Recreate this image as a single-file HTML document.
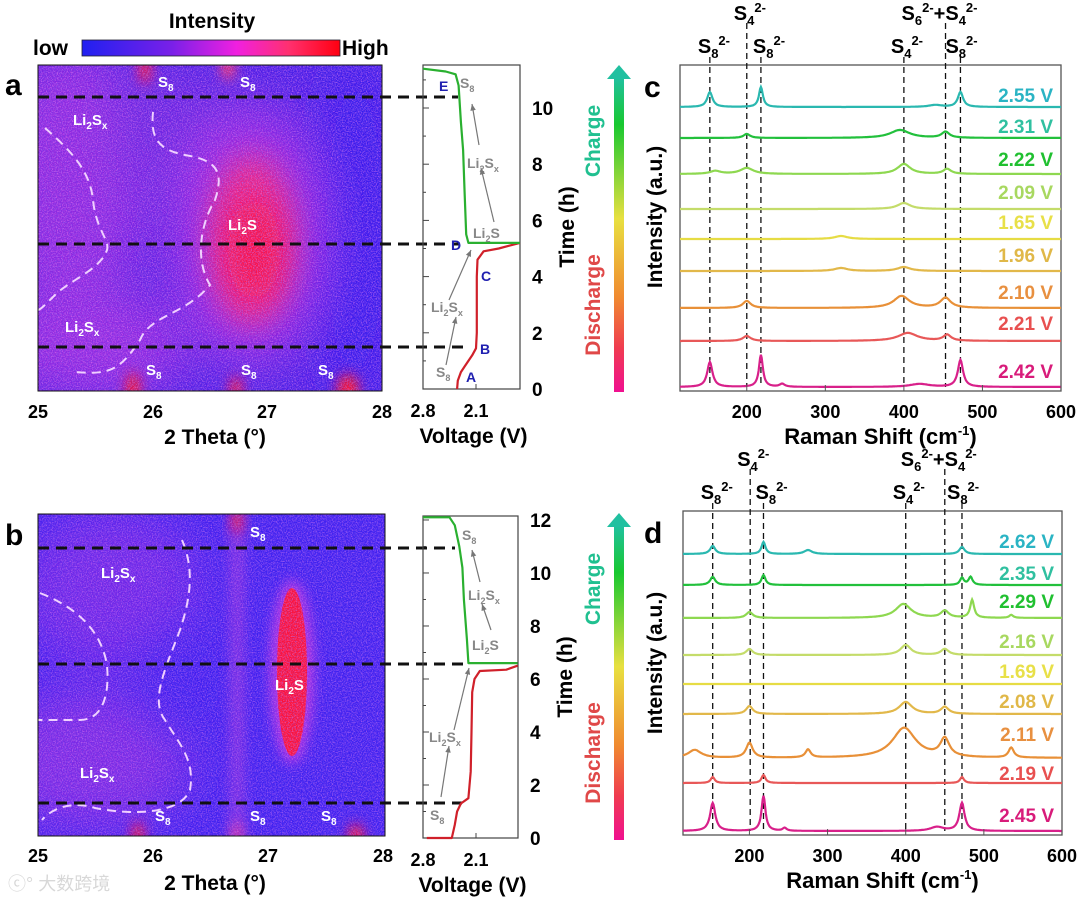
<!DOCTYPE html>
<html><head><meta charset="utf-8">
<style>
html,body{margin:0;padding:0;background:#fff;}
svg{display:block;font-family:"Liberation Sans","Noto Sans CJK SC",sans-serif;font-weight:bold;}
</style></head>
<body>
<svg id="fig" width="1080" height="898" viewBox="0 0 1080 898" xmlns="http://www.w3.org/2000/svg">
<defs>
  <linearGradient id="cbar" x1="0" x2="1" y1="0" y2="0">
    <stop offset="0" stop-color="#2020f0"/><stop offset="0.35" stop-color="#7a20e8"/>
    <stop offset="0.6" stop-color="#f020e0"/><stop offset="0.8" stop-color="#ff3070"/><stop offset="1" stop-color="#ff0010"/>
  </linearGradient>
  <linearGradient id="arrowg" x1="0" x2="0" y1="0" y2="1">
    <stop offset="0" stop-color="#20c0a0"/><stop offset="0.15" stop-color="#18c830"/>
    <stop offset="0.45" stop-color="#e8e040"/><stop offset="0.7" stop-color="#f08a30"/>
    <stop offset="0.86" stop-color="#f03c50"/><stop offset="1" stop-color="#f01090"/>
  </linearGradient>
  <filter id="noise" x="0" y="0" width="100%" height="100%">
    <feTurbulence type="fractalNoise" baseFrequency="0.8" numOctaves="2" seed="3"/>
    <feColorMatrix type="matrix" values="0 0 0 0 0.95  0 0 0 0 0.25  0 0 0 0 0.9  0 0 0 3 -1.3"/>
  </filter>
  <filter id="noise2" x="0" y="0" width="100%" height="100%">
    <feTurbulence type="fractalNoise" baseFrequency="0.85" numOctaves="2" seed="9"/>
    <feColorMatrix type="matrix" values="0 0 0 0 0.15  0 0 0 0 0.1  0 0 0 0 0.9  0 0 0 3 -1.4"/>
  </filter>
  <filter id="blur6" x="-100%" y="-100%" width="300%" height="300%"><feGaussianBlur stdDeviation="6"/></filter>
  <filter id="blur15" x="-100%" y="-100%" width="300%" height="300%"><feGaussianBlur stdDeviation="15"/></filter>
  <filter id="blur25" x="-100%" y="-100%" width="300%" height="300%"><feGaussianBlur stdDeviation="25"/></filter>
  <clipPath id="clipA"><rect x="38" y="65" width="344" height="326"/></clipPath>
  <clipPath id="clipB"><rect x="38" y="514" width="347" height="322"/></clipPath>
</defs>

<!-- Colorbar -->
<text x="212" y="28" font-size="21" text-anchor="middle">Intensity</text>
<text x="33" y="55" font-size="21">low</text>
<rect x="82" y="40" width="258" height="16" fill="url(#cbar)" stroke="#223" stroke-width="0.8"/>
<text x="342" y="55" font-size="21">High</text>

<!-- Panel a heatmap -->
<g clip-path="url(#clipA)">
  <rect x="38" y="65" width="344" height="326" fill="#4a1ee6"/>
  <ellipse cx="70" cy="180" rx="80" ry="140" fill="#9a2ae0" filter="url(#blur25)" opacity="0.85"/>
  <ellipse cx="90" cy="345" rx="100" ry="55" fill="#a02ce0" filter="url(#blur25)" opacity="0.85"/>
  <ellipse cx="170" cy="130" rx="60" ry="70" fill="#7226e0" filter="url(#blur25)" opacity="0.7"/>
  <ellipse cx="355" cy="230" rx="45" ry="180" fill="#3018f0" filter="url(#blur25)" opacity="0.8"/>
  <ellipse cx="250" cy="235" rx="80" ry="130" fill="#b02ae0" filter="url(#blur25)" opacity="0.8"/>
  <ellipse cx="252" cy="240" rx="42" ry="85" fill="#ff2070" filter="url(#blur15)" opacity="0.85"/>
  <ellipse cx="254" cy="250" rx="26" ry="50" fill="#ff1040" filter="url(#blur15)"/>
  <ellipse cx="145" cy="68" rx="6" ry="16" fill="#ff1030" filter="url(#blur6)"/>
  <ellipse cx="228" cy="68" rx="7" ry="12" fill="#ff3060" filter="url(#blur6)"/>
  <ellipse cx="133" cy="390" rx="7" ry="18" fill="#ff1020" filter="url(#blur6)"/>
  <ellipse cx="236" cy="390" rx="6" ry="14" fill="#ff1030" filter="url(#blur6)"/>
  <ellipse cx="348" cy="390" rx="11" ry="16" fill="#ff1020" filter="url(#blur6)"/>
  <rect x="38" y="65" width="344" height="326" filter="url(#noise)" opacity="0.55"/>
  <rect x="38" y="65" width="344" height="326" filter="url(#noise2)" opacity="0.5"/>
  <path d="M45,128 C70,150 90,170 93,200 C96,230 110,240 107,250 C100,270 70,280 55,295 C45,305 40,310 38,310" fill="none" stroke="#f0d0ff" stroke-width="2" stroke-dasharray="9,6"/>
  <path d="M153,112 C150,140 160,150 185,155 C215,160 225,170 215,200 C200,225 195,260 210,285 C185,315 150,315 140,340 C120,370 110,375 75,372" fill="none" stroke="#f0d0ff" stroke-width="2" stroke-dasharray="9,6"/>
</g>
<rect x="38" y="65" width="344" height="326" fill="none" stroke="#111" stroke-width="1"/>
<text x="5" y="95" font-size="30">a</text>
<g fill="#fff" font-size="15">
  <text x="158" y="87">S<tspan font-size="10" dy="4">8</tspan></text>
  <text x="240" y="87">S<tspan font-size="10" dy="4">8</tspan></text>
  <text x="73" y="125">Li<tspan font-size="10" dy="4">2</tspan><tspan dy="-4">S</tspan><tspan font-size="10" dy="4">x</tspan></text>
  <text x="228" y="230">Li<tspan font-size="10" dy="4">2</tspan><tspan dy="-4">S</tspan></text>
  <text x="65" y="332">Li<tspan font-size="10" dy="4">2</tspan><tspan dy="-4">S</tspan><tspan font-size="10" dy="4">x</tspan></text>
  <text x="146" y="375">S<tspan font-size="10" dy="4">8</tspan></text>
  <text x="241" y="375">S<tspan font-size="10" dy="4">8</tspan></text>
  <text x="318" y="375">S<tspan font-size="10" dy="4">8</tspan></text>
</g>
<g stroke="#111" stroke-width="3" stroke-dasharray="11,7">
  <line x1="38" y1="97" x2="458" y2="97"/><line x1="38" y1="244" x2="460" y2="244"/><line x1="38" y1="347" x2="470" y2="347"/>
</g>
<g font-size="18" text-anchor="middle">
  <text x="38" y="418">25</text><text x="153" y="418">26</text><text x="267" y="418">27</text><text x="382" y="418">28</text>
</g>
<text x="215" y="444" font-size="21" text-anchor="middle">2 Theta (°)</text>

<!-- Panel b heatmap -->
<g clip-path="url(#clipB)">
  <rect x="38" y="514" width="347" height="322" fill="#3e1ff0"/>
  <ellipse cx="110" cy="590" rx="90" ry="80" fill="#7a28e6" filter="url(#blur25)" opacity="0.8"/>
  <ellipse cx="90" cy="760" rx="100" ry="70" fill="#8a2ae2" filter="url(#blur25)" opacity="0.8"/>
  <ellipse cx="180" cy="680" rx="40" ry="60" fill="#3a1ef0" filter="url(#blur25)" opacity="0.6"/>
  <rect x="230" y="514" width="14" height="322" fill="#9030e0" filter="url(#blur6)" opacity="0.8"/>
  <ellipse cx="292" cy="672" rx="22" ry="92" fill="#c030e0" filter="url(#blur6)" opacity="0.9"/>
  <ellipse cx="292" cy="672" rx="15" ry="84" fill="#ff1035"/>
  <ellipse cx="237" cy="520" rx="5" ry="14" fill="#ff1030" filter="url(#blur6)"/>
  <ellipse cx="138" cy="836" rx="6" ry="14" fill="#ff1030" filter="url(#blur6)"/>
  <ellipse cx="237" cy="836" rx="6" ry="14" fill="#e030a0" filter="url(#blur6)"/>
  <ellipse cx="356" cy="836" rx="8" ry="12" fill="#ff1030" filter="url(#blur6)"/>
  <rect x="38" y="514" width="347" height="322" filter="url(#noise)" opacity="0.5"/>
  <rect x="38" y="514" width="347" height="322" filter="url(#noise2)" opacity="0.5"/>
  <path d="M40,593 C70,605 100,625 107,665 C110,700 100,720 80,720 L38,720" fill="none" stroke="#f0d0ff" stroke-width="2" stroke-dasharray="9,6"/>
  <path d="M182,540 C195,570 190,600 180,630 C165,670 150,700 165,720 C180,745 195,760 190,790 C180,815 130,815 95,808 C70,800 50,810 42,820" fill="none" stroke="#f0d0ff" stroke-width="2" stroke-dasharray="9,6"/>
</g>
<rect x="38" y="514" width="347" height="322" fill="none" stroke="#111" stroke-width="1"/>
<text x="5" y="545" font-size="30">b</text>
<g fill="#fff" font-size="15">
  <text x="250" y="537">S<tspan font-size="10" dy="4">8</tspan></text>
  <text x="101" y="578">Li<tspan font-size="10" dy="4">2</tspan><tspan dy="-4">S</tspan><tspan font-size="10" dy="4">x</tspan></text>
  <text x="275" y="690">Li<tspan font-size="10" dy="4">2</tspan><tspan dy="-4">S</tspan></text>
  <text x="80" y="778">Li<tspan font-size="10" dy="4">2</tspan><tspan dy="-4">S</tspan><tspan font-size="10" dy="4">x</tspan></text>
  <text x="155" y="821">S<tspan font-size="10" dy="4">8</tspan></text>
  <text x="250" y="821">S<tspan font-size="10" dy="4">8</tspan></text>
  <text x="321" y="821">S<tspan font-size="10" dy="4">8</tspan></text>
</g>
<g stroke="#111" stroke-width="3" stroke-dasharray="11,7">
  <line x1="38" y1="548" x2="455" y2="548"/><line x1="38" y1="664" x2="466" y2="664"/><line x1="38" y1="803" x2="462" y2="803"/>
</g>
<g font-size="18" text-anchor="middle">
  <text x="38" y="862">25</text><text x="153" y="862">26</text><text x="268" y="862">27</text><text x="383" y="862">28</text>
</g>
<text x="215" y="890" font-size="21" text-anchor="middle">2 Theta (°)</text>
<text x="8" y="890" font-size="18" fill="#d8d8d8" font-weight="normal">ⓒ° 大数跨境</text>

<g id="dyn"></g>
</svg>

<script>
// ---------- Voltage-time data (panel a / b) ----------
const vA_dis_V = [2.35, 2.34, 2.30, 2.25, 2.15, 2.10, 2.09, 2.09, 2.08, 2.00, 1.80, 1.52];
const vA_dis_t = [0, 0.3, 0.6, 0.8, 1.2, 1.45, 2.0, 4.0, 4.6, 4.9, 5.0, 5.2];
const vA_chg_V = [1.52, 2.20, 2.23, 2.25, 2.27, 2.30, 2.33, 2.37, 2.50, 2.80];
const vA_chg_t = [5.2, 5.2, 5.5, 7.0, 8.5, 9.5, 10.8, 11.2, 11.3, 11.4];
const vB_dis_V = [2.75, 2.42, 2.38, 2.35, 2.30, 2.20, 2.17, 2.16, 2.15, 2.12, 2.05, 1.70, 1.55];
const vB_dis_t = [0, 0, 0.5, 1.0, 1.3, 1.5, 2.5, 4.0, 5.5, 6.0, 6.3, 6.35, 6.5];
const vB_chg_V = [1.55, 2.20, 2.22, 2.26, 2.28, 2.32, 2.38, 2.45, 2.80];
const vB_chg_t = [6.6, 6.6, 7.5, 9.0, 10.2, 11.0, 11.8, 12.1, 12.1];
const timeTicksA = [0, 2, 4, 6, 8, 10];
const timeTicksB = [0, 2, 4, 6, 8, 10, 12];
const voltTicks = [2.8, 2.1];

// ---------- Raman data (panel c / d) ----------
const ramanTicks = [200, 300, 400, 500, 600];
const cLabels = ["2.55 V","2.31 V","2.22 V","2.09 V","1.65 V","1.96 V","2.10 V","2.21 V","2.42 V"];
const cOffsets = [280, 249, 213, 178, 148, 116, 79, 46, 0];
const cPeaks = [
  [[153,15,4],[218,20,3],[472,15,4],[440,2,10]],
  [[200,4,5],[395,8,15],[453,6,6]],
  [[160,3,8],[200,6,10],[400,10,10],[455,5,6]],
  [[400,6,10]],
  [[320,3,10]],
  [[320,3,10],[400,4,10]],
  [[200,7,6],[397,12,12],[453,10,8]],
  [[200,5,6],[405,8,15],[455,6,6]],
  [[153,25,4],[218,32,3],[472,27,4],[245,3,4],[420,3,15]]
];
const dLabels = ["2.62 V","2.35 V","2.29 V","2.16 V","1.69 V","2.08 V","2.11 V","2.19 V","2.45 V"];
const dOffsets = [277, 246, 213, 176, 147, 117, 73, 48, 0];
const dPeaks = [
  [[153,8,4],[218,12,3],[275,4,6],[472,7,4]],
  [[153,8,4],[218,10,3],[472,7,3],[483,8,3]],
  [[200,6,5],[397,14,12],[450,7,6],[485,18,3],[535,3,3]],
  [[200,6,5],[400,10,8],[450,6,6]],
  [],
  [[200,8,5],[400,12,10],[450,7,6]],
  [[130,8,10],[200,15,5],[275,8,4],[398,30,18],[450,18,7],[535,10,4]],
  [[153,6,3],[218,8,3],[472,6,3]],
  [[153,28,4],[218,35,3],[472,28,4],[440,4,10],[245,3,3]]
];
const refLines = [153, 200, 218, 400, 453, 472];
const refLinesD = [153, 201, 218, 400, 450, 472];

const traceColors = ["#2ab8b0","#22c03c","#8ed850","#c4dc6a","#e6dc44","#e2b84a","#e89038","#e85858","#d8208a"];
const labelColors = ["#2ab4c4","#30c0a0","#20c030","#a8d860","#e8e048","#e0b848","#e89040","#e85050","#d81b7a"];

const NS = "http://www.w3.org/2000/svg";
const dyn = document.getElementById("dyn");
function el(tag, attrs, parent) {
  const e = document.createElementNS(NS, tag);
  for (const k in attrs) e.setAttribute(k, attrs[k]);
  (parent || dyn).appendChild(e);
  return e;
}

function voltPanel(box, tmax, disV, disT, chgV, chgT, tTicks, tag) {
  const g = el("g", {});
  
  
  const xS = v => box.x + (2.8 - v) / 0.7 * 53;
  const yS = t => box.y + box.h - t / tmax * box.h;
  const r = el("rect", {x: box.x, y: box.y, width: box.w, height: box.h, fill: "none", stroke: "#444", "stroke-width": 1.2}, g);
  
  
  for (let t = 1; t < tmax; t++) {
    const tk = el("line", {x1: box.x, x2: box.x + (t % 2 === 0 ? 6 : 3), y1: yS(t), y2: yS(t), stroke: "#444"}, g);
    
    
  }
  tTicks.forEach(t => {
    const tx = el("text", {x: box.x + box.w + 12, y: yS(t) + 7, "font-size": 19}, g);
    tx.textContent = t;
    
    
  });
  voltTicks.forEach(v => {
    const tx = el("text", {x: xS(v), y: box.y + box.h + 28, "font-size": 18, "text-anchor": "middle"}, g);
    tx.textContent = v.toFixed(1);
    
    
    const tk = el("line", {x1: xS(v), x2: xS(v), y1: box.y + box.h, y2: box.y + box.h - 5, stroke: "#444"}, g);
    
    
  });
  const mk = (V, T, col, name) => {
    const d = V.map((v, i) => (i ? "L" : "M") + xS(v).toFixed(1) + "," + yS(T[i]).toFixed(1)).join(" ");
    const p = el("path", {d: d, fill: "none", stroke: col, "stroke-width": 2.2, "stroke-linejoin": "round"}, g);
    
    
  };
  mk(disV, disT, "#d0202a", "discharge-curve-" + tag);
  mk(chgV, chgT, "#2ab030", "charge-curve-" + tag);
  const xt = el("text", {x: box.x + box.w / 2 + 2, y: box.y + box.h + 54, "font-size": 21, "text-anchor": "middle"}, g);
  xt.textContent = "Voltage (V)";
  
  
  const yt = el("text", {x: 0, y: 0, "font-size": 21, "text-anchor": "middle", transform: `translate(${box.x + box.w + 54},${box.y + box.h / 2}) rotate(-90)`}, g);
  yt.textContent = "Time (h)";
  
  
  return {g, xS, yS};
}

const pa = voltPanel({x: 423, y: 65, w: 97, h: 324}, 11.53, vA_dis_V, vA_dis_t, vA_chg_V, vA_chg_t, timeTicksA, "a");
const pb = voltPanel({x: 423, y: 516, w: 95, h: 322}, 12.15, vB_dis_V, vB_dis_t, vB_chg_V, vB_chg_t, timeTicksB, "b");

function ann(g, txt, x, y, col) {
  const t = el("text", {x: x, y: y, "font-size": 14, fill: col}, g);
  
  
  t.innerHTML = txt;
}
function garrow(g, x1, y1, x2, y2) {
  const a = el("line", {x1, y1, x2, y2, stroke: "#777", "stroke-width": 1.2}, g);
  
  
  const ang = Math.atan2(y2 - y1, x2 - x1);
  const p = [[x2, y2], [x2 - 7 * Math.cos(ang - 0.4), y2 - 7 * Math.sin(ang - 0.4)], [x2 - 7 * Math.cos(ang + 0.4), y2 - 7 * Math.sin(ang + 0.4)]];
  const h = el("polygon", {points: p.map(q => q.join(",")).join(" "), fill: "#777"}, g);
  
  
}
const S8 = 'S<tspan font-size="9" dy="4">8</tspan>';
const LSX = 'Li<tspan font-size="9" dy="4">2</tspan><tspan dy="-4">S</tspan><tspan font-size="9" dy="4">x</tspan>';
const LS = 'Li<tspan font-size="9" dy="4">2</tspan><tspan dy="-4">S</tspan>';
const BLU = "#2020b0", GR = "#888";
ann(pa.g, "E", 439, 91, BLU); ann(pa.g, "D", 451, 250, BLU); ann(pa.g, "C", 481, 281, BLU);
ann(pa.g, "B", 480, 354, BLU); ann(pa.g, "A", 466, 382, BLU);
ann(pa.g, S8, 460, 88, GR); ann(pa.g, LSX, 467, 168, GR); ann(pa.g, LS, 473, 238, GR);
ann(pa.g, LSX, 431, 312, GR); ann(pa.g, S8, 436, 377, GR);
garrow(pa.g, 479, 145, 472, 104); garrow(pa.g, 494, 222, 481, 168);
garrow(pa.g, 446, 365, 456, 317); garrow(pa.g, 449, 300, 471, 250);
ann(pb.g, S8, 462, 540, GR); ann(pb.g, LSX, 468, 600, GR); ann(pb.g, LS, 472, 650, GR);
ann(pb.g, LSX, 429, 742, GR); ann(pb.g, S8, 430, 820, GR);
garrow(pb.g, 480, 582, 472, 550); garrow(pb.g, 491, 630, 482, 604);
garrow(pb.g, 441, 797, 449, 746); garrow(pb.g, 454, 730, 469, 668);

function cdArrow(y0, y1, tag) {
  const g = el("g", {});
  
  
  el("rect", {x: 614, y: y0 + 12, width: 10, height: y1 - y0 - 12, fill: "url(#arrowg)"}, g);
  el("polygon", {points: `${607},${y0 + 14} ${619},${y0} ${631},${y0 + 14}`, fill: "#20c0a0"}, g);
  const c = el("text", {"font-size": 21, fill: "#20c090", "text-anchor": "middle", transform: `translate(600,${y0 + 76}) rotate(-90)`}, g);
  c.textContent = "Charge";
  const d = el("text", {"font-size": 21, fill: "#e04848", "text-anchor": "middle", transform: `translate(600,${y0 + 240}) rotate(-90)`}, g);
  d.textContent = "Discharge";
}
cdArrow(65, 392, "c"); cdArrow(513, 840, "d");

function sup(base, s) {
  return `<tspan>S</tspan><tspan font-size="13" dy="5">${base}</tspan><tspan font-size="13" dy="-13">${s}</tspan>`;
}
function ramanPanel(box, labels, offsets, peaks, lines, tag, labelYs) {
  const g = el("g", {});
  
  
  const x0 = 115, x1 = 600;
  const xS = v => box.x + (v - x0) / (x1 - x0) * box.w;
  const base = box.y + box.h - 4;
  const yS = v => base - v;
  const fr = el("rect", {x: box.x, y: box.y, width: box.w, height: box.h, fill: "none", stroke: "#555", "stroke-width": 1.3}, g);
  
  
  lines.forEach((v, i) => {
    const top = (i === 1 || i === 4) ? box.y - 42 : box.y - 8;
    const ln = el("line", {x1: xS(v), x2: xS(v), y1: top, y2: box.y + box.h - 4, stroke: "#111", "stroke-width": 1.3, "stroke-dasharray": "6,4"}, g);
    
    
  });
  const addT = (x, y, html, anchor, name) => {
    const t = el("text", {x: x, y: y, "font-size": 20, "text-anchor": anchor}, g);
    t.innerHTML = html;
    
    
  };
  addT(xS(lines[0]) - 12, box.y - 12, sup("8", "2-"), "start", "peak-label-s8");
  addT(xS(lines[2]) - 8, box.y - 12, sup("8", "2-"), "start", "peak-label-s8");
  addT(xS(lines[1]) - 13, box.y - 45, sup("4", "2-"), "start", "peak-label-s4");
  addT(xS(lines[3]) - 13, box.y - 12, sup("4", "2-"), "start", "peak-label-s4");
  addT(xS(lines[5]) - 15, box.y - 12, sup("8", "2-"), "start", "peak-label-s8");
  addT(xS(lines[4]) - 44, box.y - 45, sup("6", "2-") + '<tspan dy="8">+S</tspan><tspan font-size="13" dy="5">4</tspan><tspan font-size="13" dy="-13">2-</tspan>', "start", "peak-label-s6-s4");
  peaks.forEach((pk, i) => {
    let d = "";
    for (let v = x0; v <= x1; v += 1) {
      let y = offsets[i];
      pk.forEach(p => { y += p[1] / (1 + Math.pow((v - p[0]) / p[2], 2)); });
      d += (v === x0 ? "M" : "L") + xS(v).toFixed(1) + "," + yS(y).toFixed(1);
    }
    const p = el("path", {d: d, fill: "none", stroke: traceColors[i], "stroke-width": 2.2}, g);
    
    
    const t = el("text", {x: box.x + box.w - 8, y: labelYs[i], "font-size": 19, fill: labelColors[i], "text-anchor": "end"}, g);
    t.textContent = labels[i];
    
    
  });
  ramanTicks.forEach(v => {
    const tk = el("line", {x1: xS(v), x2: xS(v), y1: box.y + box.h, y2: box.y + box.h - 6, stroke: "#555"}, g);
    
    
    const t = el("text", {x: xS(v), y: box.y + box.h + 27, "font-size": 18, "text-anchor": "middle"}, g);
    t.textContent = v;
    
    
  });
  const xt = el("text", {x: box.x + box.w / 2 + 10, y: box.y + box.h + 53, "font-size": 22, "text-anchor": "middle"}, g);
  xt.innerHTML = 'Raman Shift (cm<tspan font-size="13" dy="-9">-1</tspan><tspan dy="9">)</tspan>';
  
  
  const yt = el("text", {"font-size": 21, "text-anchor": "middle", transform: `translate(662,${box.y + 152}) rotate(-90)`}, g);
  yt.textContent = "Intensity (a.u.)";
  
  
  const pl = el("text", {x: 644, y: box.y + 32, "font-size": 30}, g);
  pl.textContent = tag;
  
  
}
ramanPanel({x: 680, y: 65, w: 381, h: 326}, cLabels, cOffsets, cPeaks, refLines, "c",
  [102, 133, 166, 199, 229, 262, 299, 330, 378]);
ramanPanel({x: 683, y: 511, w: 379, h: 324}, dLabels, dOffsets, dPeaks, refLinesD, "d",
  [548, 580, 608, 648, 678, 708, 741, 780, 822]);
</script>
</body></html>
